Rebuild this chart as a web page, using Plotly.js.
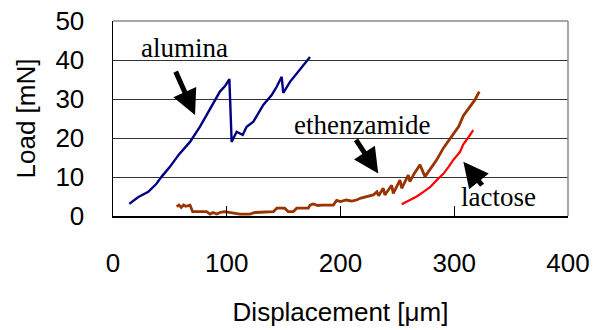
<!DOCTYPE html>
<html>
<head>
<meta charset="utf-8">
<script src="https://cdn.plot.ly/plotly-3.0.1.min.js"></script>
<style>html,body{margin:0;padding:0;background:#fff;}#chart{width:600px;height:330px;}</style>
</head>
<body>
<div id="chart"></div>
<script>
// Displacement [µm] / Load [mN]
const aluminaX = [14.3, 22, 31, 38, 42.8, 50, 58, 67.7, 76.5, 85, 94, 98.5, 102.3, 104.3, 108.7, 114, 117.5, 123.4, 132.1, 139.5, 144, 148.3, 149.7, 155.6, 160, 164.4, 168, 173.2];
const aluminaY = [3.1, 4.8, 6.2, 8.2, 10.1, 12.6, 15.8, 19, 22.9, 27.2, 31.9, 33.3, 35.1, 19, 21.6, 20.8, 22.9, 24.2, 28.5, 31, 33.2, 35.7, 31.6, 34.4, 36, 37.4, 39, 40.8];

const ethenX = [56, 58, 60, 62, 64, 67.7, 70, 82.3, 85.3, 88, 91.2, 94, 98, 103, 106, 111.6, 116, 120.4, 124.8, 141, 144, 151, 154, 158.5, 161.5, 171.7, 173.2, 176, 180, 183.5, 193.7, 196.6, 200, 205, 210, 214, 218, 223, 228.8, 232, 233.5, 237.6, 239, 245, 246.4, 252.3, 253.8, 259.6, 261, 265, 269.9, 274.3, 278.7, 284.6, 290.4, 299.2, 304, 308, 313.8, 318, 322];
const ethenY = [2.4, 2.8, 2.2, 2.8, 2.5, 2.8, 1.1, 1.1, 0.5, 0.9, 0.5, 0.9, 1.1, 0.9, 0.6, 0.5, 0.5, 0.5, 0.9, 1.1, 2.0, 2.0, 1.1, 1.1, 2.0, 2.0, 2.8, 3.1, 2.7, 2.8, 2.8, 4.0, 3.7, 4.1, 3.8, 4.1, 4.6, 5.0, 5.4, 6.2, 5.2, 7.1, 5.4, 7.9, 5.8, 9.2, 7.1, 10.5, 8.8, 11.0, 13.1, 10.1, 11.8, 14.4, 17.4, 21.0, 23.0, 25.7, 28.0, 29.7, 31.9];

const lactoseX = [253.8, 260, 267, 272, 278.7, 284.6, 290.4, 295, 299.2, 305, 308, 312, 316.7];
const lactoseY = [3.0, 3.9, 5.0, 6.0, 7.4, 9.2, 10.8, 12.6, 14.4, 16.4, 18.4, 20.0, 22.0];

const xTicks = [0, 100, 200, 300, 400];
const yTicks = [0, 10, 20, 30, 40, 50];

// label placement (data coordinates)
const labels = [
  {text: 'alumina', x: 62.5, y: 43.1, tailX: 54.5, tailY: 37.4, tipX: 72.1, tipY: 25.9},
  {text: 'ethenzamide', x: 218.6, y: 23.3, tailX: 212.7, tailY: 19.9, tipX: 233.2, tipY: 10.9},
  {text: 'lactose', x: 339.1, y: 4.9, tailX: 325.5, tailY: 7.5, tipX: 308, tipY: 13.9}
];

const traces = [
  {x: aluminaX, y: aluminaY, mode: 'lines', line: {color: '#000080', width: 2.4}, name: 'alumina'},
  {x: ethenX, y: ethenY, mode: 'lines', line: {color: '#993300', width: 2.8}, name: 'ethenzamide'},
  {x: lactoseX, y: lactoseY, mode: 'lines', line: {color: '#FF0000', width: 2.2}, name: 'lactose'}
];

const annotations = [];
labels.forEach(l => {
  annotations.push({x: l.x, y: l.y, xref: 'x', yref: 'y', text: l.text, showarrow: false,
    font: {family: 'Liberation Serif, Times New Roman, serif', size: 27, color: '#000'}});
  annotations.push({x: l.tipX, y: l.tipY, ax: l.tailX, ay: l.tailY, xref: 'x', yref: 'y', axref: 'x', ayref: 'y',
    text: '', showarrow: true, arrowhead: 2, arrowsize: 1.0, arrowwidth: 5, arrowcolor: '#000'});
});

const tickFont = {family: 'Liberation Sans, Arial, sans-serif', size: 26, color: '#000'};

const layout = {
  width: 600, height: 330,
  margin: {l: 113, r: 32, t: 21, b: 114},
  paper_bgcolor: '#fff', plot_bgcolor: '#fff',
  showlegend: false,
  xaxis: {
    range: [0, 400], tickvals: xTicks, ticktext: xTicks.map(String),
    showgrid: false, zeroline: false, showline: true, linecolor: '#000', linewidth: 1.5,
    ticks: 'inside', ticklen: 10, tickcolor: '#000', tickwidth: 1,
    tickfont: tickFont, ticklabelstandoff: 23,
    title: {text: 'Displacement [μm]', font: tickFont, standoff: 26}
  },
  yaxis: {
    range: [0, 50], tickvals: yTicks, ticktext: yTicks.map(String),
    showgrid: true, gridcolor: '#333', gridwidth: 1, zeroline: false,
    showline: true, linecolor: '#000', linewidth: 1.5, ticks: '',
    tickfont: tickFont, ticklabelstandoff: 22,
    title: {text: 'Load [mN]', font: tickFont, standoff: 12}
  },
  shapes: [
    {type: 'line', xref: 'paper', yref: 'paper', x0: 0, x1: 1, y0: 1, y1: 1, line: {color: '#8a8a8a', width: 1.5}},
    {type: 'line', xref: 'paper', yref: 'paper', x0: 1, x1: 1, y0: 0, y1: 1, line: {color: '#8a8a8a', width: 1.5}}
  ],
  annotations: annotations
};

Plotly.newPlot('chart', traces, layout, {staticPlot: true, displayModeBar: false});
</script>
</body>
</html>
